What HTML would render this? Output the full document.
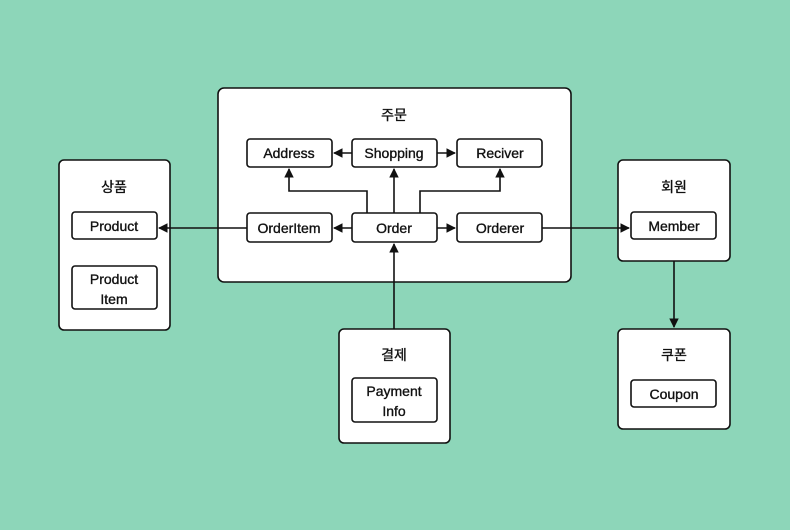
<!DOCTYPE html>
<html><head><meta charset="utf-8"><style>
body{margin:0;width:790px;height:525px;background:#8dd6b9;font-family:"Liberation Sans","Noto Sans CJK KR",sans-serif;}
svg text{font-family:"Liberation Sans","Noto Sans CJK KR",sans-serif;font-size:14px;fill:#111;stroke:#111;stroke-width:0.35px;text-anchor:middle;}
</style></head><body>
<svg width="790" height="525" xmlns="http://www.w3.org/2000/svg">
<defs><marker id="a" viewBox="0 0 10 10" refX="9" refY="5" markerWidth="6" markerHeight="6" orient="auto"><path d="M0,0L10,5L0,10z" fill="#111"/></marker></defs>
<g fill="#fff" stroke="#111" stroke-width="1.6">
<rect x="218" y="88" width="353" height="194" rx="6"/>
<rect x="59" y="160" width="111" height="170" rx="5"/>
<rect x="618" y="160" width="112" height="101" rx="5"/>
<rect x="618" y="329" width="112" height="100" rx="5"/>
<rect x="339" y="329" width="111" height="114" rx="5"/>
<rect x="247" y="139" width="85" height="28" rx="3"/>
<rect x="352" y="139" width="85" height="28" rx="3"/>
<rect x="457" y="139" width="85" height="28" rx="3"/>
<rect x="247" y="213" width="85" height="29" rx="3"/>
<rect x="352" y="213" width="85" height="29" rx="3"/>
<rect x="457" y="213" width="85" height="29" rx="3"/>
<rect x="72" y="212" width="85" height="27" rx="3"/>
<rect x="72" y="266" width="85" height="43" rx="3"/>
<rect x="631" y="212" width="85" height="27" rx="3"/>
<rect x="631" y="380" width="85" height="27" rx="3"/>
<rect x="352" y="378" width="85" height="44" rx="3"/>
</g>
<g fill="none" stroke="#111" stroke-width="1.6" marker-end="url(#a)">
<path d="M352 153H334"/>
<path d="M437 153H455"/>
<path d="M367 213V191H289V169"/>
<path d="M394 213V169"/>
<path d="M420 213V191H500V169"/>
<path d="M352 228H334"/>
<path d="M437 228H455"/>
<path d="M247 228H159"/>
<path d="M542 228H629"/>
<path d="M394 329V244"/>
<path d="M674 261V327"/>
</g>
<text x="394" y="120">주문</text>
<text x="114" y="192">상품</text>
<text x="674" y="192">회원</text>
<text x="674" y="360">쿠폰</text>
<text x="394" y="360">결제</text>
<text x="289" y="158">Address</text>
<text x="394" y="158">Shopping</text>
<text x="500" y="158">Reciver</text>
<text x="289" y="233">OrderItem</text>
<text x="394" y="233">Order</text>
<text x="500" y="233">Orderer</text>
<text x="114" y="231">Product</text>
<text x="114" y="284">Product</text>
<text x="114" y="304">Item</text>
<text x="674" y="231">Member</text>
<text x="674" y="399">Coupon</text>
<text x="394" y="396">Payment</text>
<text x="394" y="416">Info</text>
</svg>
</body></html>
